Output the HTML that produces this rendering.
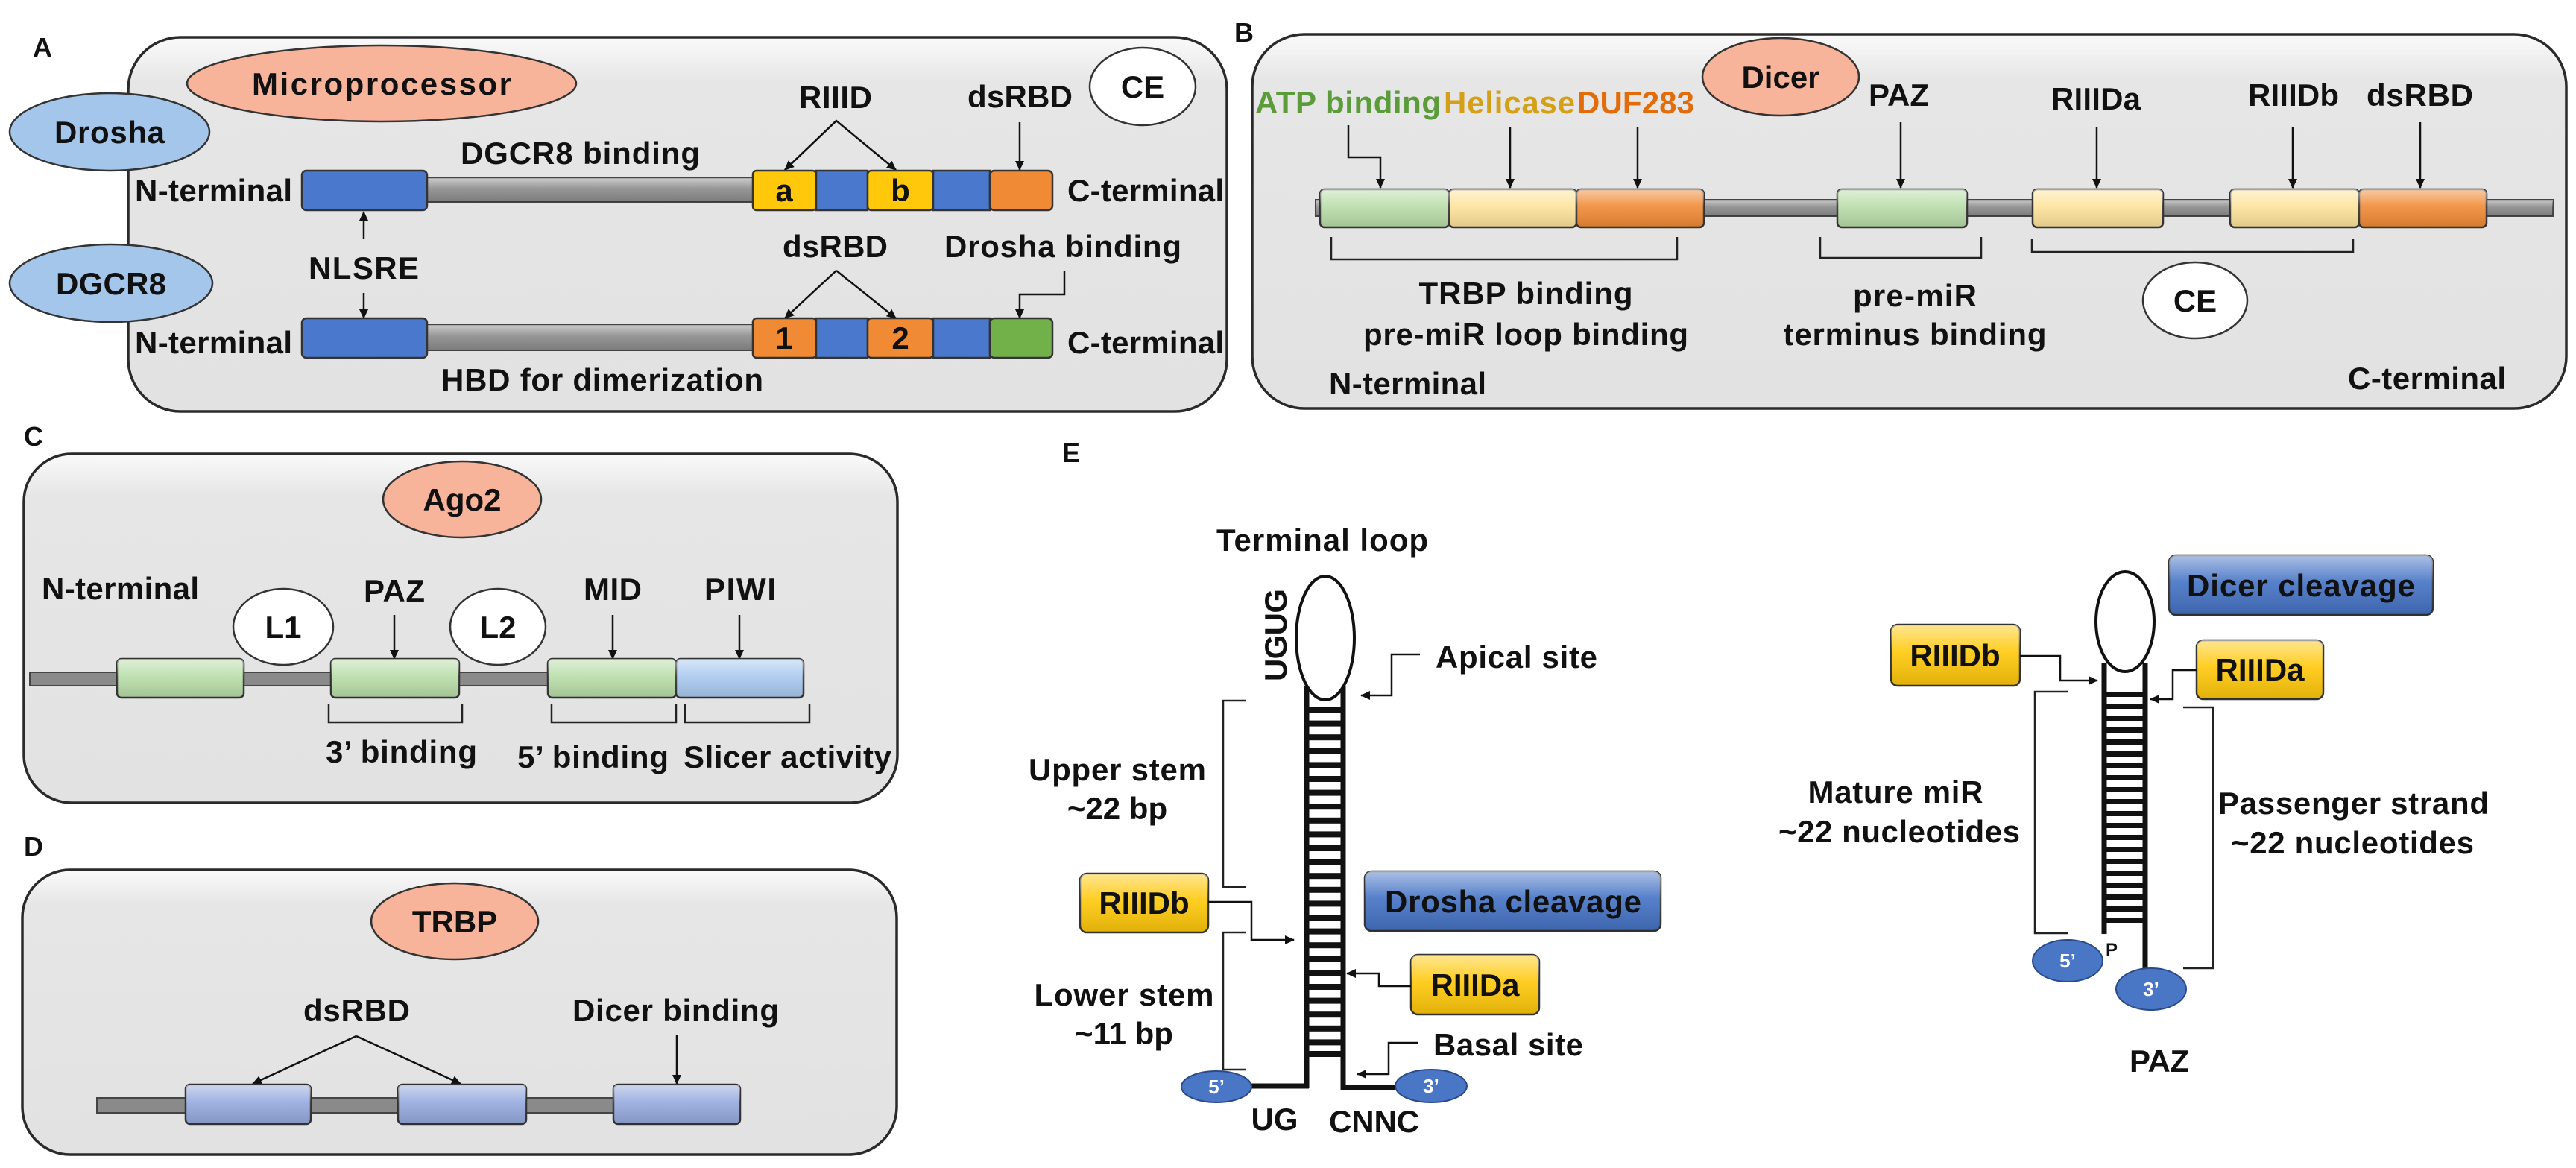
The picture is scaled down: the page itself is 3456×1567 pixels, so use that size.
<!DOCTYPE html>
<html><head><meta charset="utf-8"><style>
html,body{margin:0;padding:0;background:#fff}
svg{display:block}
text{font-family:"Liberation Sans",Arial,sans-serif;font-weight:bold;fill:#111}
.t{font-size:42px}
.pn{fill:#e5e5e5;stroke:#2a2a2a;stroke-width:3.5}
.bx{stroke:#333;stroke-width:2.5}
.ln{fill:none;stroke:#111;stroke-width:2.5}
.br{fill:none;stroke:#222;stroke-width:2.5}
.bar{fill:#8a8a8a;stroke:#444;stroke-width:2}
</style></head><body>
<svg width="3456" height="1567" viewBox="0 0 3456 1567" xmlns="http://www.w3.org/2000/svg">
<defs>
<linearGradient id="gl" x1="0" y1="0" x2="0" y2="1"><stop offset="0" stop-color="#fff" stop-opacity="0.55"/><stop offset="0.45" stop-color="#fff" stop-opacity="0.1"/><stop offset="1" stop-color="#000" stop-opacity="0.12"/></linearGradient>
<linearGradient id="pg" x1="0" y1="0" x2="0" y2="1"><stop offset="0" stop-color="#fafafa"/><stop offset="0.12" stop-color="#e6e6e6"/><stop offset="1" stop-color="#e2e2e2"/></linearGradient>
<marker id="ah" markerWidth="14" markerHeight="14" refX="12" refY="7" orient="auto" markerUnits="userSpaceOnUse"><path d="M0,1 L13,7 L0,13 Z" fill="#111"/></marker>
</defs>

<!-- ================= PANEL A ================= -->
<text x="44" y="76" style="font-size:36px">A</text>
<rect x="172" y="50" width="1474" height="502" rx="70" class="pn" style="fill:url(#pg)"/>
<ellipse cx="512" cy="112" rx="261" ry="51" fill="#f7b49b" stroke="#333" stroke-width="2.5"/>
<text x="512" y="127" class="t" text-anchor="middle" textLength="348">Microprocessor</text>
<ellipse cx="147" cy="177" rx="134" ry="52" fill="#a3c6ea" stroke="#333" stroke-width="2.5"/>
<text x="147" y="192" class="t" text-anchor="middle" textLength="148">Drosha</text>
<ellipse cx="149" cy="380" rx="136" ry="52" fill="#a3c6ea" stroke="#333" stroke-width="2.5"/>
<text x="149" y="395" class="t" text-anchor="middle" textLength="148">DGCR8</text>
<ellipse cx="1533" cy="116" rx="71" ry="52" fill="#fff" stroke="#333" stroke-width="2.5"/>
<text x="1533" y="131" class="t" text-anchor="middle">CE</text>

<text x="618" y="220" class="t" textLength="321">DGCR8 binding</text>
<text x="1072" y="145" class="t" textLength="98">RIIID</text>
<text x="1298" y="144" class="t" textLength="141">dsRBD</text>
<path d="M1053,228 L1122,162 L1202,228" class="ln" marker-start="url(#ah)" marker-end="url(#ah)"/>
<path d="M1122,162 L1053,228" class="ln" marker-end="url(#ah)"/>
<path d="M1368,164 V228" class="ln" marker-end="url(#ah)"/>

<!-- row 1 -->
<text x="181" y="270" class="t" textLength="211">N-terminal</text>
<rect x="573" y="239" width="437" height="32" class="bar"/>
<rect x="573" y="239" width="437" height="32" fill="url(#gl)"/>
<rect x="405" y="229" width="168" height="53" rx="6" fill="#4a78cc" class="bx"/>
<rect x="1010" y="229" width="85" height="53" rx="5" fill="#ffc80a" class="bx"/>
<rect x="1095" y="229" width="69" height="53" fill="#4a78cc" class="bx"/>
<rect x="1164" y="229" width="88" height="53" rx="5" fill="#ffc80a" class="bx"/>
<rect x="1252" y="229" width="76" height="53" fill="#4a78cc" class="bx"/>
<rect x="1328" y="229" width="84" height="53" rx="6" fill="#f08a35" class="bx"/>
<text x="1052" y="270" class="t" text-anchor="middle">a</text>
<text x="1208" y="270" class="t" text-anchor="middle">b</text>
<text x="1432" y="270" class="t" textLength="210">C-terminal</text>

<text x="414" y="374" class="t" textLength="148">NLSRE</text>
<path d="M488,320 V284" class="ln" marker-end="url(#ah)"/>
<path d="M488,393 V427" class="ln" marker-end="url(#ah)"/>

<text x="1050" y="345" class="t" textLength="141">dsRBD</text>
<path d="M1122,363 L1053,427" class="ln" marker-end="url(#ah)"/>
<path d="M1122,363 L1202,427" class="ln" marker-end="url(#ah)"/>
<text x="1267" y="345" class="t" textLength="318">Drosha binding</text>
<path d="M1428,364 V395 H1368 V427" class="ln" marker-end="url(#ah)"/>

<!-- row 2 -->
<text x="181" y="474" class="t" textLength="211">N-terminal</text>
<rect x="573" y="436" width="437" height="34" class="bar"/>
<rect x="573" y="436" width="437" height="34" fill="url(#gl)"/>
<rect x="405" y="427" width="168" height="53" rx="6" fill="#4a78cc" class="bx"/>
<rect x="1010" y="427" width="85" height="53" rx="5" fill="#f08a35" class="bx"/>
<rect x="1095" y="427" width="69" height="53" fill="#4a78cc" class="bx"/>
<rect x="1164" y="427" width="88" height="53" rx="5" fill="#f08a35" class="bx"/>
<rect x="1252" y="427" width="76" height="53" fill="#4a78cc" class="bx"/>
<rect x="1328" y="427" width="84" height="53" rx="6" fill="#72b04a" class="bx"/>
<text x="1052" y="468" class="t" text-anchor="middle">1</text>
<text x="1208" y="468" class="t" text-anchor="middle">2</text>
<text x="1432" y="474" class="t" textLength="210">C-terminal</text>
<text x="592" y="524" class="t" textLength="432">HBD for dimerization</text>

<!-- ================= PANEL B ================= -->
<text x="1656" y="56" style="font-size:36px">B</text>
<rect x="1680" y="46" width="1763" height="502" rx="70" class="pn" style="fill:url(#pg)"/>
<ellipse cx="2389" cy="103" rx="105" ry="52" fill="#f7b49b" stroke="#333" stroke-width="2.5"/>
<text x="2389" y="118" class="t" text-anchor="middle">Dicer</text>
<text x="1684" y="152" class="t" textLength="249" style="fill:#5b9b3a">ATP binding</text>
<text x="1937" y="152" class="t" textLength="176" style="fill:#d4a017">Helicase</text>
<text x="2116" y="152" class="t" textLength="157" style="fill:#e36c0a">DUF283</text>
<path d="M1809,168 V211 H1852 V252" class="ln" marker-end="url(#ah)"/>
<path d="M2026,171 V252" class="ln" marker-end="url(#ah)"/>
<path d="M2197,171 V252" class="ln" marker-end="url(#ah)"/>
<text x="2507" y="142" class="t" textLength="81">PAZ</text>
<path d="M2550,164 V252" class="ln" marker-end="url(#ah)"/>
<text x="2752" y="147" class="t" textLength="120">RIIIDa</text>
<path d="M2813,170 V252" class="ln" marker-end="url(#ah)"/>
<text x="3016" y="142" class="t" textLength="122">RIIIDb</text>
<path d="M3076,170 V252" class="ln" marker-end="url(#ah)"/>
<text x="3175" y="142" class="t" textLength="143">dsRBD</text>
<path d="M3247,164 V252" class="ln" marker-end="url(#ah)"/>

<rect x="1765" y="268" width="1660" height="22" class="bar"/>
<rect x="1765" y="268" width="1660" height="22" fill="url(#gl)"/>
<rect x="1771" y="254" width="173" height="51" rx="6" fill="#b9dda9" class="bx"/>
<rect x="1944" y="254" width="171" height="51" rx="6" fill="#fde39b" class="bx"/>
<rect x="2115" y="254" width="171" height="51" rx="6" fill="#f08a35" class="bx"/>
<rect x="2465" y="254" width="174" height="51" rx="6" fill="#b9dda9" class="bx"/>
<rect x="2727" y="254" width="175" height="51" rx="6" fill="#fde39b" class="bx"/>
<rect x="2992" y="254" width="173" height="51" rx="6" fill="#fde39b" class="bx"/>
<rect x="3165" y="254" width="171" height="51" rx="6" fill="#f08a35" class="bx"/>
<g fill="url(#gl)">
<rect x="1771" y="254" width="173" height="51" rx="6"/><rect x="1944" y="254" width="171" height="51" rx="6"/><rect x="2115" y="254" width="171" height="51" rx="6"/><rect x="2465" y="254" width="174" height="51" rx="6"/><rect x="2727" y="254" width="175" height="51" rx="6"/><rect x="2992" y="254" width="173" height="51" rx="6"/><rect x="3165" y="254" width="171" height="51" rx="6"/>
</g>
<path d="M1786,318 V348 H2250 V318" class="br"/>
<path d="M2442,318 V346 H2658 V318" class="br"/>
<path d="M2726,320 V338 H3157 V320" class="br"/>
<text x="2047" y="408" class="t" text-anchor="middle" textLength="287">TRBP binding</text>
<text x="2047" y="463" class="t" text-anchor="middle" textLength="436">pre-miR loop binding</text>
<text x="2569" y="411" class="t" text-anchor="middle" textLength="166">pre-miR</text>
<text x="2569" y="463" class="t" text-anchor="middle" textLength="353">terminus binding</text>
<ellipse cx="2945" cy="403" rx="70" ry="51" fill="#fff" stroke="#333" stroke-width="2.5"/>
<text x="2945" y="418" class="t" text-anchor="middle">CE</text>
<text x="1783" y="529" class="t" textLength="211">N-terminal</text>
<text x="3150" y="522" class="t" textLength="212">C-terminal</text>

<!-- ================= PANEL C ================= -->
<text x="32" y="598" style="font-size:36px">C</text>
<rect x="32" y="609" width="1172" height="468" rx="64" class="pn" style="fill:url(#pg)"/>
<ellipse cx="620" cy="670" rx="106" ry="51" fill="#f7b49b" stroke="#333" stroke-width="2.5"/>
<text x="620" y="685" class="t" text-anchor="middle">Ago2</text>
<text x="56" y="804" class="t" textLength="211">N-terminal</text>
<ellipse cx="380" cy="841" rx="67" ry="51" fill="#fff" stroke="#333" stroke-width="2.5"/>
<text x="380" y="856" class="t" text-anchor="middle">L1</text>
<ellipse cx="668" cy="841" rx="64" ry="51" fill="#fff" stroke="#333" stroke-width="2.5"/>
<text x="668" y="856" class="t" text-anchor="middle">L2</text>
<text x="488" y="807" class="t" textLength="82">PAZ</text>
<path d="M529,825 V884" class="ln" marker-end="url(#ah)"/>
<text x="783" y="805" class="t" textLength="78">MID</text>
<path d="M822,825 V884" class="ln" marker-end="url(#ah)"/>
<text x="945" y="805" class="t" textLength="96">PIWI</text>
<path d="M992,825 V884" class="ln" marker-end="url(#ah)"/>
<rect x="40" y="902" width="700" height="18" class="bar"/>
<rect x="157" y="884" width="170" height="52" rx="6" fill="#b9dda9" class="bx"/>
<rect x="444" y="884" width="172" height="52" rx="6" fill="#b9dda9" class="bx"/>
<rect x="735" y="884" width="172" height="52" rx="6" fill="#b9dda9" class="bx"/>
<rect x="907" y="884" width="171" height="52" rx="6" fill="#a9c9ef" class="bx"/>
<g fill="url(#gl)"><rect x="157" y="884" width="170" height="52" rx="6"/><rect x="444" y="884" width="172" height="52" rx="6"/><rect x="735" y="884" width="172" height="52" rx="6"/><rect x="907" y="884" width="171" height="52" rx="6"/></g>
<path d="M441,945 V969 H620 V945" class="br"/>
<path d="M740,945 V969 H907 V945" class="br"/>
<path d="M919,945 V969 H1086 V945" class="br"/>
<text x="437" y="1023" class="t" textLength="203">3’ binding</text>
<text x="694" y="1030" class="t" textLength="203">5’ binding</text>
<text x="917" y="1030" class="t" textLength="279">Slicer activity</text>

<!-- ================= PANEL D ================= -->
<text x="32" y="1148" style="font-size:36px">D</text>
<rect x="30" y="1167" width="1173" height="382" rx="64" class="pn" style="fill:url(#pg)"/>
<ellipse cx="610" cy="1236" rx="112" ry="51" fill="#f7b49b" stroke="#333" stroke-width="2.5"/>
<text x="610" y="1251" class="t" text-anchor="middle">TRBP</text>
<text x="407" y="1370" class="t" textLength="143">dsRBD</text>
<path d="M478,1390 L339,1454" class="ln" marker-end="url(#ah)"/>
<path d="M478,1390 L618,1454" class="ln" marker-end="url(#ah)"/>
<text x="768" y="1370" class="t" textLength="277">Dicer binding</text>
<path d="M908,1388 V1454" class="ln" marker-end="url(#ah)"/>
<rect x="130" y="1473" width="700" height="20" class="bar"/>
<rect x="249" y="1455" width="168" height="53" rx="6" fill="#95a9dd" class="bx"/>
<rect x="534" y="1455" width="172" height="53" rx="6" fill="#95a9dd" class="bx"/>
<rect x="823" y="1455" width="170" height="53" rx="6" fill="#95a9dd" class="bx"/>
<g fill="url(#gl)"><rect x="249" y="1455" width="168" height="53" rx="6"/><rect x="534" y="1455" width="172" height="53" rx="6"/><rect x="823" y="1455" width="170" height="53" rx="6"/></g>

<!-- ================= PANEL E ================= -->
<text x="1425" y="620" style="font-size:36px">E</text>
<text x="1632" y="739" class="t" textLength="284">Terminal loop</text>
<text transform="translate(1726,852) rotate(-90)" class="t" text-anchor="middle" textLength="124">UGUG</text>
<line x1="1753" y1="920" x2="1753" y2="1460" stroke="#111" stroke-width="7"/>
<line x1="1802" y1="920" x2="1802" y2="1462" stroke="#111" stroke-width="7"/>
<ellipse cx="1778" cy="856" rx="39" ry="83" fill="#fff" stroke="#111" stroke-width="4"/>
<g fill="#111">
<rect x="1753" y="948" width="49" height="8"/><rect x="1753" y="966.6" width="49" height="8"/><rect x="1753" y="985.2" width="49" height="8"/><rect x="1753" y="1003.8" width="49" height="8"/><rect x="1753" y="1022.4" width="49" height="8"/><rect x="1753" y="1041" width="49" height="8"/><rect x="1753" y="1059.6" width="49" height="8"/><rect x="1753" y="1078.2" width="49" height="8"/><rect x="1753" y="1096.8" width="49" height="8"/><rect x="1753" y="1115.4" width="49" height="8"/><rect x="1753" y="1134" width="49" height="8"/><rect x="1753" y="1152.6" width="49" height="8"/><rect x="1753" y="1171.2" width="49" height="8"/><rect x="1753" y="1189.8" width="49" height="8"/><rect x="1753" y="1208.4" width="49" height="8"/><rect x="1753" y="1227" width="49" height="8"/><rect x="1753" y="1245.6" width="49" height="8"/><rect x="1753" y="1264.2" width="49" height="8"/><rect x="1753" y="1282.8" width="49" height="8"/><rect x="1753" y="1301.4" width="49" height="8"/><rect x="1753" y="1320" width="49" height="8"/><rect x="1753" y="1338.6" width="49" height="8"/><rect x="1753" y="1357.2" width="49" height="8"/><rect x="1753" y="1375.8" width="49" height="8"/><rect x="1753" y="1394.4" width="49" height="8"/><rect x="1753" y="1410" width="49" height="8"/>
</g>
<line x1="1756" y1="1457" x2="1670" y2="1457" stroke="#111" stroke-width="7"/>
<line x1="1799" y1="1459" x2="1880" y2="1459" stroke="#111" stroke-width="7"/>
<ellipse cx="1632" cy="1458" rx="47" ry="21" fill="#4a76c6" stroke="#2a4a8a" stroke-width="2"/>
<text x="1632" y="1467" text-anchor="middle" style="font-size:26px;fill:#fff">5’</text>
<ellipse cx="1920" cy="1457" rx="48" ry="22" fill="#4a76c6" stroke="#2a4a8a" stroke-width="2"/>
<text x="1920" y="1466" text-anchor="middle" style="font-size:26px;fill:#fff">3’</text>
<text x="1710" y="1516" class="t" text-anchor="middle">UG</text>
<text x="1783" y="1519" class="t" textLength="121">CNNC</text>

<text x="1926" y="896" class="t" textLength="217">Apical site</text>
<path d="M1905,878 H1867 V933 H1826" class="ln" marker-end="url(#ah)"/>
<text x="1499" y="1047" class="t" text-anchor="middle" textLength="238">Upper stem</text>
<text x="1499" y="1099" class="t" text-anchor="middle">~22 bp</text>
<path d="M1671,940 H1641 V1190 H1671" class="br"/>
<path d="M1671,1251 H1641 V1435 H1671" class="br"/>
<rect x="1449" y="1172" width="172" height="79" rx="9" fill="#ffc80a" class="bx"/>
<rect x="1449" y="1172" width="172" height="79" rx="9" fill="url(#gl)"/>
<text x="1535" y="1226" class="t" text-anchor="middle">RIIIDb</text>
<path d="M1621,1210 H1679 V1261 H1736" class="ln" marker-end="url(#ah)"/>
<text x="1508" y="1349" class="t" text-anchor="middle" textLength="241">Lower stem</text>
<text x="1508" y="1401" class="t" text-anchor="middle">~11 bp</text>
<rect x="1831" y="1169" width="397" height="80" rx="9" fill="#4472c4" class="bx"/>
<rect x="1831" y="1169" width="397" height="80" rx="9" fill="url(#gl)"/>
<text x="2030" y="1224" class="t" text-anchor="middle" textLength="344">Drosha cleavage</text>
<rect x="1893" y="1281" width="172" height="80" rx="9" fill="#ffc80a" class="bx"/>
<rect x="1893" y="1281" width="172" height="80" rx="9" fill="url(#gl)"/>
<text x="1979" y="1336" class="t" text-anchor="middle">RIIIDa</text>
<path d="M1893,1323 H1850 V1306 H1807" class="ln" marker-end="url(#ah)"/>
<text x="1923" y="1416" class="t" textLength="201">Basal site</text>
<path d="M1903,1399 H1863 V1441 H1821" class="ln" marker-end="url(#ah)"/>

<!-- right hairpin -->
<line x1="2823" y1="890" x2="2823" y2="1253" stroke="#111" stroke-width="7"/>
<line x1="2878" y1="890" x2="2878" y2="1300" stroke="#111" stroke-width="7"/>
<ellipse cx="2851" cy="834" rx="39" ry="67" fill="#fff" stroke="#111" stroke-width="4"/>
<g fill="#111">
<rect x="2823" y="928" width="55" height="7"/><rect x="2823" y="944" width="55" height="7"/><rect x="2823" y="960" width="55" height="7"/><rect x="2823" y="976" width="55" height="7"/><rect x="2823" y="992" width="55" height="7"/><rect x="2823" y="1008" width="55" height="7"/><rect x="2823" y="1024" width="55" height="7"/><rect x="2823" y="1040" width="55" height="7"/><rect x="2823" y="1056" width="55" height="7"/><rect x="2823" y="1072" width="55" height="7"/><rect x="2823" y="1088" width="55" height="7"/><rect x="2823" y="1104" width="55" height="7"/><rect x="2823" y="1120" width="55" height="7"/><rect x="2823" y="1136" width="55" height="7"/><rect x="2823" y="1152" width="55" height="7"/><rect x="2823" y="1168" width="55" height="7"/><rect x="2823" y="1184" width="55" height="7"/><rect x="2823" y="1200" width="55" height="7"/><rect x="2823" y="1216" width="55" height="7"/><rect x="2823" y="1231" width="55" height="7"/>
</g>
<text x="2833" y="1282" text-anchor="middle" style="font-size:24px">P</text>
<ellipse cx="2774" cy="1289" rx="47" ry="28" fill="#4a76c6" stroke="#2a4a8a" stroke-width="2"/>
<text x="2774" y="1298" text-anchor="middle" style="font-size:26px;fill:#fff">5’</text>
<ellipse cx="2886" cy="1327" rx="47" ry="28" fill="#4a76c6" stroke="#2a4a8a" stroke-width="2"/>
<text x="2886" y="1336" text-anchor="middle" style="font-size:26px;fill:#fff">3’</text>
<rect x="2910" y="745" width="354" height="80" rx="9" fill="#4472c4" class="bx"/>
<rect x="2910" y="745" width="354" height="80" rx="9" fill="url(#gl)"/>
<text x="3087" y="800" class="t" text-anchor="middle" textLength="306">Dicer cleavage</text>
<rect x="2537" y="838" width="173" height="82" rx="9" fill="#ffc80a" class="bx"/>
<rect x="2537" y="838" width="173" height="82" rx="9" fill="url(#gl)"/>
<text x="2623" y="894" class="t" text-anchor="middle">RIIIDb</text>
<path d="M2710,880 H2764 V913 H2814" class="ln" marker-end="url(#ah)"/>
<rect x="2947" y="859" width="170" height="79" rx="9" fill="#ffc80a" class="bx"/>
<rect x="2947" y="859" width="170" height="79" rx="9" fill="url(#gl)"/>
<text x="3032" y="913" class="t" text-anchor="middle">RIIIDa</text>
<path d="M2947,899 H2915 V938 H2885" class="ln" marker-end="url(#ah)"/>
<path d="M2775,928 H2730 V1252 H2775" class="br"/>
<path d="M2929,949 H2969 V1299 H2929" class="br"/>
<text x="2543" y="1077" class="t" text-anchor="middle" textLength="235">Mature miR</text>
<text x="2710" y="1130" class="t" text-anchor="end" textLength="324">~22 nucleotides</text>
<text x="2976" y="1092" class="t" textLength="363">Passenger strand</text>
<text x="2993" y="1145" class="t" textLength="326">~22 nucleotides</text>
<text x="2897" y="1438" class="t" text-anchor="middle" textLength="80">PAZ</text>
</svg>
</body></html>
